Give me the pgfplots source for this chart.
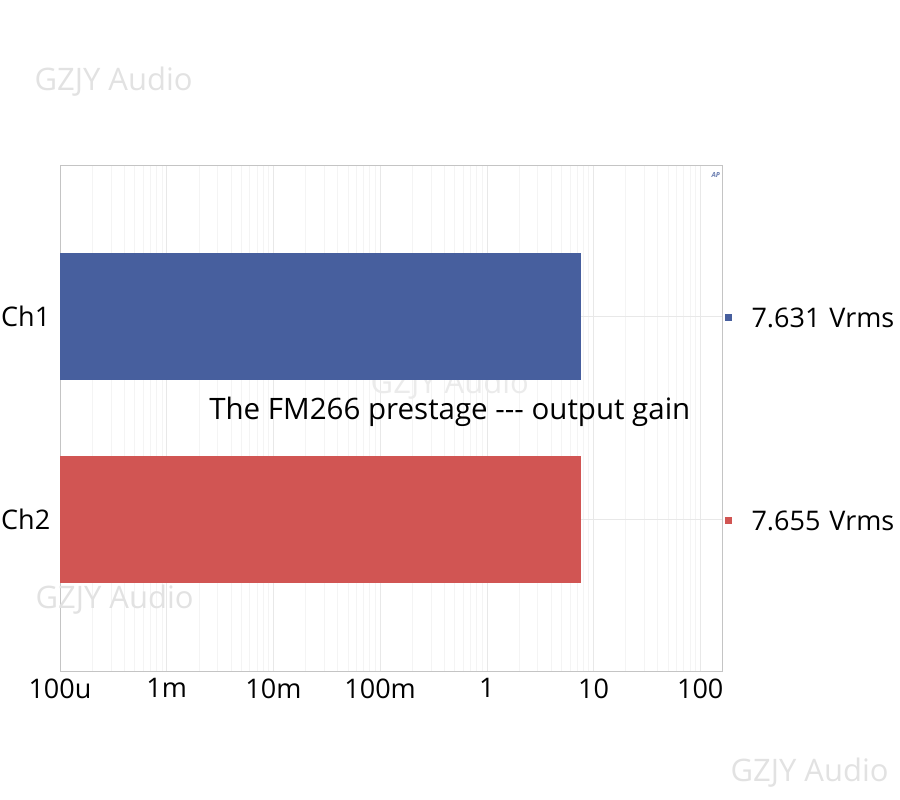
\documentclass[border=0pt]{standalone}
\usepackage{fontspec}
\setmainfont{Open Sans}
\usepackage{pgfplots}
\pgfplotsset{compat=1.18}
\definecolor{barblue}{HTML}{475F9E}
\definecolor{barred}{HTML}{D15553}
\definecolor{wm}{HTML}{E2E2E2}
\definecolor{axgray}{HTML}{C4C4C4}
\begin{document}
\begin{tikzpicture}[x=1bp,y=1bp]
\useasboundingbox (0,0) rectangle (900,800);
\node[text=wm,font=\fontsize{31bp}{34bp}\selectfont,anchor=west] at (31,718) {GZJY Audio};
\node[text=wm,font=\fontsize{31bp}{34bp}\selectfont,anchor=west] at (727,27) {GZJY Audio};
\begin{axis}[
  at={(60bp,129bp)}, anchor=south west,
  scale only axis, width=662bp, height=506bp,
  xmode=log, log origin x=infty,
  xmin=1e-4, xmax=160, ymin=-0.75, ymax=1.75,
  xbar, bar width=0.627, bar shift=0pt,
  xtick={1e-4,1e-3,1e-2,1e-1,1,10,100},
  xticklabels={100u,1m,10m,100m,1,10,100},
  ytick={0,1}, yticklabels={Ch2,Ch1},
  tick style={draw=none},
  minor tick style={draw=none},
  xmajorgrids, xminorgrids, ymajorgrids,
  major grid style={draw=black!9, line width=0.6pt},
  minor grid style={draw=black!4.5, line width=0.6pt},
  axis line style={draw=axgray, line width=0.8pt},
  ticklabel style={font=\fontsize{27bp}{30bp}\selectfont, text=black},
  xticklabel style={yshift=-4bp},
  yticklabel style={xshift=-2bp},
  clip=false,
]
\node[text=black!8,font=\fontsize{31bp}{34bp}\selectfont] at (axis cs:0.45,0.667) {GZJY Audio};
\addplot[draw=none, fill=barblue] coordinates {(7.631,1)};
\addplot[draw=none, fill=barred] coordinates {(7.655,0)};
\node[font=\fontsize{29.5bp}{32bp}\selectfont] at (axis cs:0.45,0.53) {The FM266 prestage -{}-{}- output gain};
\node[text=barblue!80,font=\fontsize{7bp}{8bp}\selectfont\bfseries\itshape] at (axis cs:140,1.7) {AP};
\end{axis}
\node[text=wm,font=\fontsize{31bp}{34bp}\selectfont,anchor=west] at (32,200) {GZJY Audio};
\fill[barblue] (725,479) rectangle (732,486);
\fill[barred] (725,276) rectangle (732,283);
\node[anchor=west,font=\fontsize{27bp}{30bp}\selectfont] at (748,482) {7.631\,\,Vrms};
\node[anchor=west,font=\fontsize{27bp}{30bp}\selectfont] at (748,279) {7.655\,\,Vrms};
\end{tikzpicture}
\end{document}
